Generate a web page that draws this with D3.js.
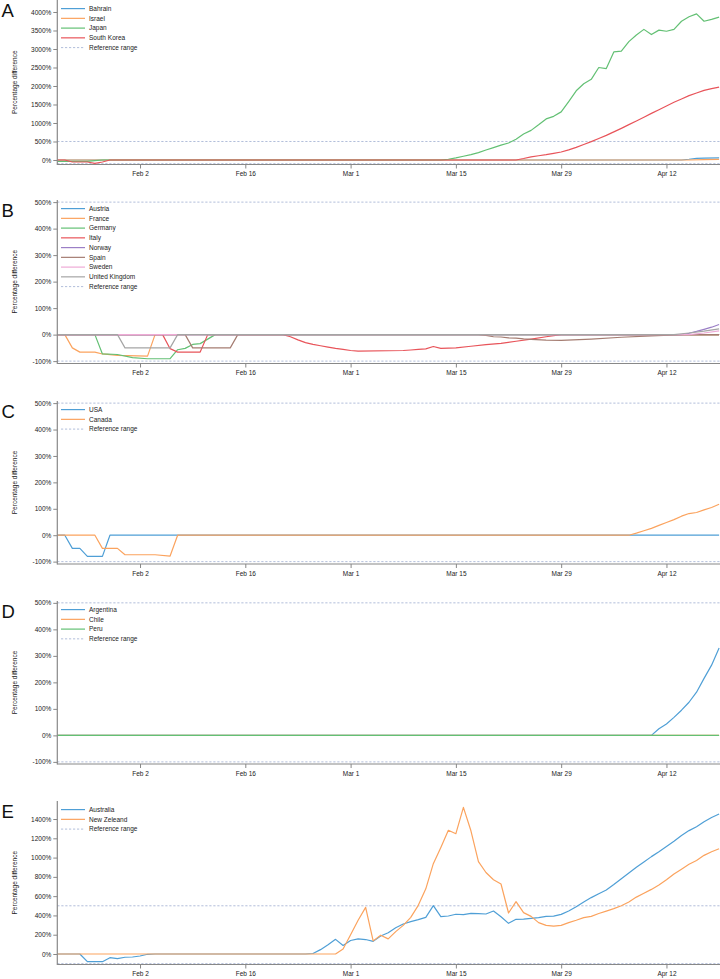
<!DOCTYPE html>
<html>
<head>
<meta charset="utf-8">
<script src="https://cdn.jsdelivr.net/npm/d3@7"></script>
<style>
  body { margin: 0; background: #fff; }
  svg { display: block; font-family: "Liberation Sans", Arial, sans-serif; }
</style>
</head>
<body>
<svg id="chart" width="720" height="979"></svg>
<script>
// day offsets from Jan 22, 2020 and percentage difference
const startDate = "2020-01-22";
const dateTicks = ["2020-02-02", "2020-02-16", "2020-03-01", "2020-03-15", "2020-03-29", "2020-04-12"];
const refRange = [-100, 500];

// A
const bahrain = [[0,0],[83,0],[84,20],[85,45],[86,52],[88,55]];
const israel = [[0,0],[84,0],[86,10],[88,15]];
const japan = [[0,-35],[4,-35],[5,-15],[6,0],[51,0],[52,20],[53,55],[54,100],[55,145],[56,200],[57,270],[58,335],
  [59,400],[60,460],[61,560],[62,700],[63,800],[64,950],[65,1110],[66,1180],[67,1300],[68,1580],[69,1870],[70,2060],
  [71,2180],[72,2500],[73,2470],[74,2920],[75,2940],[76,3200],[77,3380],[78,3530],[79,3390],[80,3510],[81,3480],
  [82,3530],[83,3750],[84,3870],[85,3950],[86,3750],[87,3800],[88,3860]];
const southKorea = [[0,0],[1,0],[2,-55],[4,-55],[5,-90],[6,-55],[7,0],[61,0],[62,40],[63,85],[64,115],[65,145],
  [66,180],[67,215],[68,275],[69,340],[70,420],[71,495],[72,580],[73,665],[74,760],[75,855],[76,955],[77,1055],
  [78,1155],[79,1260],[80,1360],[81,1460],[82,1560],[83,1650],[84,1740],[85,1810],[86,1880],[87,1930],[88,1970]];

// B
const austria = [[0,0],[88,0]];
const france = [[0,0],[1,0],[2,-50],[3,-66],[5,-66],[6,-73],[8,-78],[12,-81],[13,0],[88,0]];
const germany = [[0,0],[5,0],[6,-73],[8,-75],[10,-87],[12,-91],[15,-91],[16,-57],[17,-52],[18,-37],[19,-34],[21,0],[88,0]];
const italy = [[0,0],[14,0],[15,-53],[16,-66],[19,-66],[20,0],[30,0],[31,-8],[32,-20],[33,-30],[34,-37],[35,-42],
  [36,-47],[37,-52],[38,-56],[39,-60],[40,-62],[46,-60],[47,-58],[48,-56],[49,-54],[50,-45],[51,-52],[53,-50],
  [55,-44],[57,-38],[59,-33],[61,-25],[63,-17],[65,-8],[67,0],[88,0]];
const norway = [[0,0],[83,0],[84,5],[85,12],[86,20],[87,28],[88,38]];
const spain = [[0,0],[17,0],[18,-50],[23,-50],[24,0],[56,0],[57,-3],[58,-8],[59,-9],[60,-12],[61,-13],[62,-16],
  [63,-18],[65,-21],[67,-22],[71,-17],[75,-10],[79,-5],[83,0],[88,0]];
const sweden = [[0,0],[84,0],[86,6],[88,14]];
const unitedKingdom = [[0,0],[8,0],[9,-50],[15,-50],[16,0],[82,0],[84,6],[86,13],[88,22]];

// C
const usa = [[0,0],[1,0],[2,-50],[3,-50],[4,-80],[6,-80],[7,0],[88,0]];
const canada = [[0,0],[5,0],[6,-50],[8,-50],[9,-74],[13,-74],[15,-79],[16,0],[76,0],[77,8],[78,17],[79,26],
  [80,37],[81,48],[82,59],[83,72],[84,82],[85,86],[86,96],[87,105],[88,117]];

// D
const argentina = [[0,0],[79,0],[80,25],[81,43],[82,68],[83,95],[84,125],[85,163],[86,215],[87,265],[88,330]];
const chile = [[0,0],[88,0]];
const peru = [[0,0],[88,0]];

// E
const australia = [[0,0],[3,0],[4,-80],[6,-80],[7,-38],[8,-48],[9,-34],[10,-31],[11,-21],[12,-3],[13,0],[33,0],
  [34,5],[35,45],[36,95],[37,152],[38,88],[39,140],[40,157],[41,150],[42,131],[43,187],[44,221],[45,273],[46,311],
  [47,335],[48,356],[49,380],[50,501],[51,387],[52,394],[53,412],[54,408],[55,422],[56,418],[57,415],[58,446],
  [59,387],[60,318],[61,360],[62,362],[63,370],[64,377],[65,391],[66,393],[67,411],[68,446],[69,490],[70,540],
  [71,585],[72,625],[73,664],[74,720],[75,780],[76,840],[77,900],[78,955],[79,1010],[80,1061],[81,1115],[82,1170],
  [83,1230],[84,1280],[85,1320],[86,1372],[87,1415],[88,1452]];
const newZealand = [[0,0],[37,0],[38,52],[39,200],[40,350],[41,484],[42,136],[43,195],[44,157],[45,232],[46,297],
  [47,380],[48,505],[49,676],[50,937],[51,1105],[52,1283],[53,1248],[54,1521],[55,1278],[56,958],[57,845],[58,770],
  [59,726],[60,425],[61,543],[62,429],[63,390],[64,325],[65,297],[66,290],[67,297],[68,325],[69,350],[70,377],
  [71,390],[72,420],[73,445],[74,470],[75,500],[76,540],[77,590],[78,630],[79,670],[80,716],[81,770],[82,830],
  [83,880],[84,930],[85,970],[86,1023],[87,1060],[88,1092]];

const colors = ["#4f9fd6", "#fba35e", "#63c074", "#e8545a", "#9b7fc6", "#a57d72", "#eeaad6", "#a5a5a5"];
const refColor = "#a9b7d6";

const panels = [
  { letter: "A", top: 0, bottom: 164.5, domain: [-122, 4324], ticks: d3.range(0, 4001, 500),
    names: ["Bahrain", "Israel", "Japan", "South Korea"], series: [bahrain, israel, japan, southKorea] },
  { letter: "B", top: 200, bottom: 363.5, domain: [-109, 508], ticks: d3.range(-100, 501, 100),
    names: ["Austria", "France", "Germany", "Italy", "Norway", "Spain", "Sweden", "United Kingdom"],
    series: [austria, france, germany, italy, norway, spain, sweden, unitedKingdom] },
  { letter: "C", top: 401, bottom: 564, domain: [-109, 508], ticks: d3.range(-100, 501, 100),
    names: ["USA", "Canada"], series: [usa, canada] },
  { letter: "D", top: 601, bottom: 764, domain: [-108, 507], ticks: d3.range(-100, 501, 100),
    names: ["Argentina", "Chile", "Peru"], series: [argentina, chile, peru] },
  { letter: "E", top: 801, bottom: 964.5, domain: [-109, 1587], ticks: d3.range(0, 1401, 200),
    names: ["Australia", "New Zeleand"], series: [australia, newZealand] }
];

const svg = d3.select("#chart");
const left = 57.3, right = 720;
const t0 = d3.isoParse(startDate + "T00:00:00");
const toDate = d => d3.timeDay.offset(new Date(t0.getFullYear(), t0.getMonth(), t0.getDate()), d);
const x = d3.scaleTime().domain([toDate(0), toDate(88)]).range([left, 719.1]);
const fmt = d3.timeFormat("%b %-d");
const tickDates = dateTicks.map(s => { const p = s.split("-"); return new Date(+p[0], +p[1] - 1, +p[2]); });

svg.append("defs").append("clipPath").attr("id", "clip")
  .append("rect").attr("x", left).attr("y", 0).attr("width", right - left).attr("height", 979);

panels.forEach(p => {
  const y = d3.scaleLinear().domain(p.domain).range([p.bottom, p.top]);
  const g = svg.append("g");

  // reference range
  g.selectAll(".ref").data(refRange).join("line")
    .attr("x1", left).attr("x2", right)
    .attr("y1", d => y(d)).attr("y2", d => y(d))
    .attr("stroke", refColor).attr("stroke-width", 0.9).attr("stroke-dasharray", "2.2,1.8");

  const line = d3.line().x(d => x(toDate(d[0]))).y(d => y(d[1]));
  g.append("g").attr("clip-path", "url(#clip)")
    .selectAll("path").data(p.series).join("path")
    .attr("d", line)
    .attr("fill", "none")
    .attr("stroke", (d, i) => colors[i])
    .attr("stroke-width", 1.2)
    .attr("stroke-linejoin", "round");

  // axes
  const yAxis = g.append("g").attr("transform", `translate(${left},0)`)
    .call(d3.axisLeft(y).tickValues(p.ticks).tickSize(4).tickPadding(2).tickFormat(d => d + "%"));
  const xAxis = g.append("g").attr("transform", `translate(0,${p.bottom})`)
    .call(d3.axisBottom(x).tickValues(tickDates).tickSize(4).tickPadding(3).tickFormat(fmt));
  [yAxis, xAxis].forEach(a => {
    a.select(".domain").remove();
    a.selectAll(".tick line").attr("stroke", "#888").attr("stroke-width", 1);
    a.selectAll(".tick text").attr("fill", "#222").style("font-size", "6.5px");
  });
  g.append("line").attr("x1", left).attr("x2", left).attr("y1", p.top).attr("y2", p.bottom + 0.6)
    .attr("stroke", "#888").attr("stroke-width", 1.2);
  g.append("line").attr("x1", left).attr("x2", right).attr("y1", p.bottom).attr("y2", p.bottom)
    .attr("stroke", "#888").attr("stroke-width", 1.2);

  g.append("text")
    .attr("transform", `translate(17,${(p.top + p.bottom) / 2}) rotate(-90)`)
    .attr("text-anchor", "middle")
    .style("font-size", "6.5px").attr("fill", "#222")
    .text("Percentage difference");

  g.append("text").attr("x", 1.5).attr("y", p.top + 16.8)
    .style("font-size", "18.5px").attr("fill", "#111")
    .text(p.letter);

  // legend
  const items = p.names.map((n, i) => ({ name: n, color: colors[i], dash: null }))
    .concat([{ name: "Reference range", color: refColor, dash: "2.2,1.8" }]);
  const lg = g.append("g").attr("transform", `translate(0,${p.top + 8.6})`);
  const row = lg.selectAll("g").data(items).join("g")
    .attr("transform", (d, i) => `translate(0,${i * 9.75})`);
  row.append("line").attr("x1", 61).attr("x2", 85)
    .attr("stroke", d => d.color).attr("stroke-width", d => d.dash ? 0.9 : 1.2)
    .attr("stroke-dasharray", d => d.dash);
  row.append("text").attr("x", 89).attr("dy", "0.35em")
    .style("font-size", "6.5px").attr("fill", "#222").text(d => d.name);
});
</script>
</body>
</html>
